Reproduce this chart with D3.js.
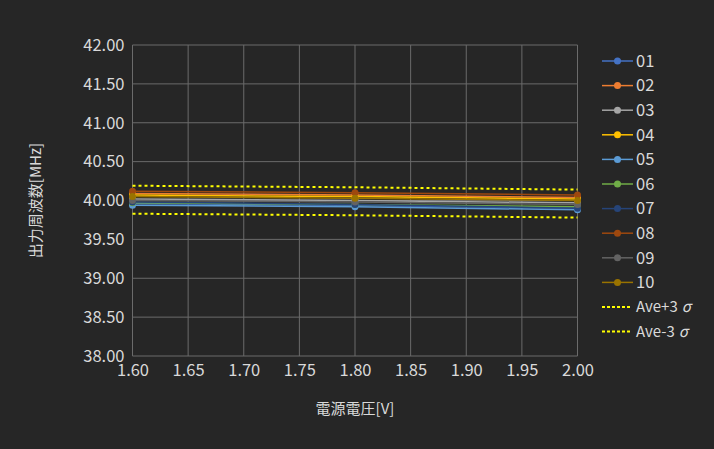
<!DOCTYPE html>
<html>
<head>
<meta charset="utf-8">
<script src="https://cdn.jsdelivr.net/npm/d3@7"></script>
<style>
  html, body { margin: 0; padding: 0; background: #262626; }
  svg { display: block; }
</style>
</head>
<body>
<div id="chart"></div>
<script>
var WIDTH = 714;
var HEIGHT = 449;

// data
var voltages = [1.60, 1.80, 2.00];
var seriesNames = ["01", "02", "03", "04", "05", "06", "07", "08", "09", "10"];
var s01 = [39.96, 39.94, 39.90];
var s02 = [40.09, 40.07, 40.04];
var s03 = [40.02, 40.00, 39.97];
var s04 = [40.07, 40.05, 40.02];
var s05 = [39.94, 39.92, 39.88];
var s06 = [39.97, 39.95, 39.92];
var s07 = [39.98, 39.95, 39.90];
var s08 = [40.12, 40.10, 40.07];
var s09 = [40.00, 39.98, 39.95];
var s10 = [40.05, 40.03, 40.00];
var avePlus3s = [40.19, 40.17, 40.14];
var aveMinus3s = [39.83, 39.81, 39.78];
var xTicks = [1.60, 1.65, 1.70, 1.75, 1.80, 1.85, 1.90, 1.95, 2.00];
var yTicks = [38.0, 38.5, 39.0, 39.5, 40.0, 40.5, 41.0, 41.5, 42.0];

var seriesValues = [s01, s02, s03, s04, s05, s06, s07, s08, s09, s10];
var colors = ["#4472C4", "#ED7D31", "#A5A5A5", "#FFC000", "#5B9BD5",
              "#70AD47", "#264478", "#9E480E", "#636363", "#997300"];

var svg = d3.select("#chart")
            .append("svg")
            .attr("width", WIDTH)
            .attr("height", HEIGHT);

svg.append("rect").attr("width", WIDTH).attr("height", HEIGHT).attr("fill", "#262626");

var P_LEFT = 132.5, P_RIGHT = 577.5, P_TOP = 45, P_BOTTOM = 356;

var x = d3.scaleLinear().domain([1.60, 2.00]).range([P_LEFT, P_RIGHT]);
var y = d3.scaleLinear().domain([38, 42]).range([P_BOTTOM, P_TOP]);

var textColor = "#d9d9d9";
var font = "'Noto Sans CJK JP', 'Noto Sans', sans-serif";

// grid
var grid = svg.append("g");
grid.selectAll(".vg").data(xTicks).enter().append("line")
    .attr("x1", function(d) { return x(d); }).attr("x2", function(d) { return x(d); })
    .attr("y1", P_TOP).attr("y2", P_BOTTOM)
    .attr("stroke", "#6b6b6b").attr("stroke-width", 1);
grid.selectAll(".hg").data(yTicks).enter().append("line")
    .attr("x1", P_LEFT).attr("x2", P_RIGHT)
    .attr("y1", function(d) { return y(d); }).attr("y2", function(d) { return y(d); })
    .attr("stroke", "#6b6b6b").attr("stroke-width", 1);

// axes (labels only)
var xAxis = svg.append("g").attr("transform", "translate(0," + P_BOTTOM + ")")
    .call(d3.axisBottom(x).tickValues(xTicks).tickFormat(d3.format(".2f")).tickSize(0).tickPadding(8));
var yAxis = svg.append("g").attr("transform", "translate(" + P_LEFT + ",0)")
    .call(d3.axisLeft(y).tickValues(yTicks).tickFormat(d3.format(".2f")).tickSize(0).tickPadding(8));
[xAxis, yAxis].forEach(function(a) {
  a.select(".domain").remove();
  a.selectAll("text").attr("fill", textColor).attr("font-size", "16.5px").attr("font-family", font);
});

// series
var line = d3.line()
    .x(function(d, i) { return x(voltages[i]); })
    .y(function(d) { return y(d); });

var plot = svg.append("g");

plot.selectAll(".sig").data([avePlus3s, aveMinus3s]).enter().append("path")
    .attr("d", line)
    .attr("fill", "none")
    .attr("stroke", "#FFFF00")
    .attr("stroke-width", 2)
    .attr("stroke-dasharray", "3,3");

seriesValues.forEach(function(vals, k) {
  plot.append("path")
      .attr("d", line(vals))
      .attr("fill", "none")
      .attr("stroke", colors[k])
      .attr("stroke-width", 1.5);
});
seriesValues.forEach(function(vals, k) {
  plot.selectAll(".m" + k).data(vals).enter().append("circle")
      .attr("cx", function(d, i) { return x(voltages[i]); })
      .attr("cy", function(d) { return y(d); })
      .attr("r", 3.5)
      .attr("fill", colors[k]);
});

// legend
var legend = svg.append("g");
var lx = 602, ly = 61, step = 24.6;
seriesNames.forEach(function(name, k) {
  var g = legend.append("g").attr("transform", "translate(" + lx + "," + (ly + k * step) + ")");
  g.append("line").attr("x1", 0).attr("x2", 31).attr("stroke", colors[k]).attr("stroke-width", 1.5);
  g.append("circle").attr("cx", 15.5).attr("r", 3.5).attr("fill", colors[k]);
  g.append("text").attr("x", 34).attr("dy", "0.35em").text(name)
   .attr("fill", textColor).attr("font-size", "16.5px").attr("font-family", font);
});
["Ave+3", "Ave-3"].forEach(function(name, k) {
  var g = legend.append("g").attr("transform", "translate(" + lx + "," + (ly + (10 + k) * step) + ")");
  g.append("line").attr("x1", 0).attr("x2", 28).attr("stroke", "#FFFF00")
   .attr("stroke-width", 2).attr("stroke-dasharray", "3,2");
  var t = g.append("text").attr("x", 34).attr("dy", "0.35em")
   .attr("fill", textColor).attr("font-size", "15px").attr("font-family", font);
  t.append("tspan").text(name);
  t.append("tspan").attr("dx", 4).attr("font-style", "italic").text("σ");
});

// axis titles
svg.append("text")
   .attr("x", (P_LEFT + P_RIGHT) / 2).attr("y", 414)
   .attr("text-anchor", "middle")
   .attr("fill", textColor).attr("font-size", "15px").attr("font-family", font)
   .text("電源電圧[V]");
svg.append("text")
   .attr("transform", "translate(41," + (P_TOP + P_BOTTOM) / 2 + ") rotate(-90)")
   .attr("text-anchor", "middle")
   .attr("fill", textColor).attr("font-size", "15px").attr("font-family", font)
   .text("出力周波数[MHz]");
</script>
</body>
</html>
